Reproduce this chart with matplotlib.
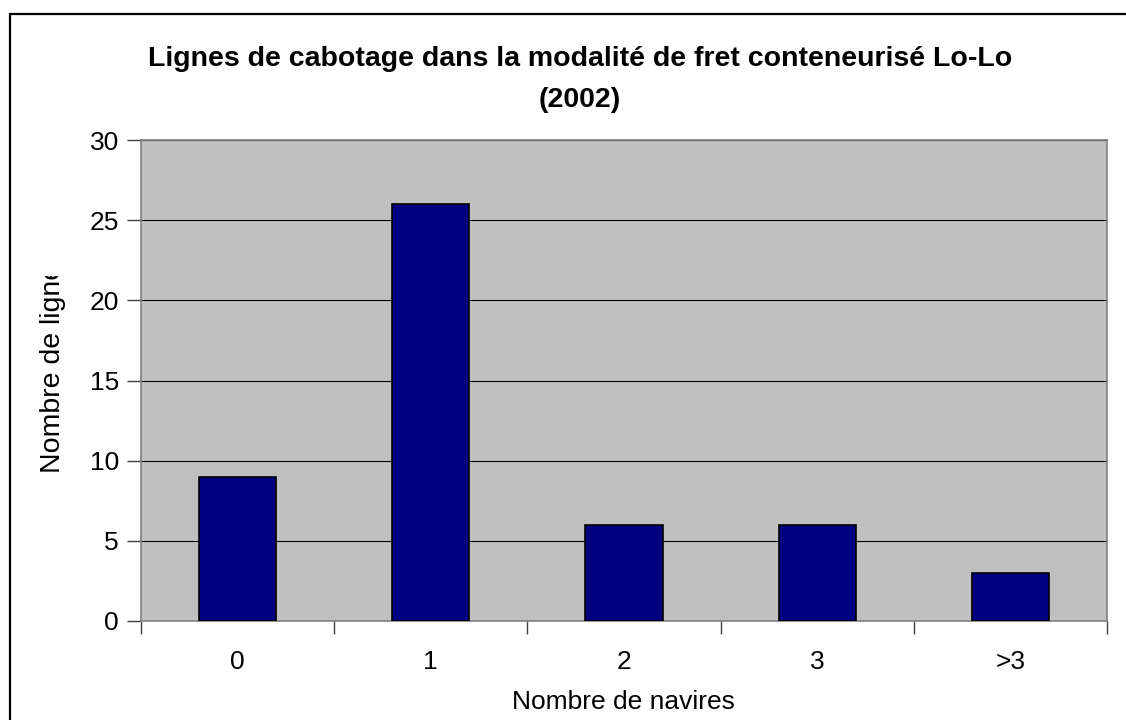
import matplotlib
matplotlib.use('Agg')
import matplotlib.pyplot as plt
from matplotlib.patches import Rectangle

plt.rcParams['font.family'] = ['Liberation Sans', 'DejaVu Sans']

# données
categories = ['0', '1', '2', '3', '>3']
nb_lignes = [9, 26, 6, 6, 3]
y_ticks = [0, 5, 10, 15, 20, 25, 30]

W, H = 1126, 720
fig = plt.figure(figsize=(W / 100, H / 100), dpi=100)

# cadre extérieur (coupé à droite et en bas)
fig.patches.append(Rectangle((10 / W, -0.1), 1.2, (H - 14) / H + 0.1,
                             transform=fig.transFigure, fill=False,
                             edgecolor='black', linewidth=1.6))

ax = fig.add_axes([141 / W, 1 - 621 / H, (1107 - 141) / W, (621 - 140) / H])
ax.set_facecolor('#C0C0C0')

x = list(range(len(categories)))
ax.bar(x, nb_lignes, width=0.4, color='#000080', edgecolor='black', linewidth=1.2, zorder=3)

ax.set_xlim(-0.5, len(categories) - 0.5)
ax.set_ylim(0, 30)
ax.set_yticks(y_ticks)
for v in y_ticks[1:]:
    ax.axhline(v, color='black', linewidth=0.8, zorder=1)

# graduations entre les catégories, étiquettes au centre
ax.set_xticks([i + 0.5 for i in x[:-1]] + [-0.5, len(categories) - 0.5])
ax.set_xticklabels([])
ax.set_xticks(x, minor=True)
ax.set_xticklabels(categories, minor=True)
ax.tick_params(axis='x', which='major', direction='out', length=9, width=1, color='#404040')
ax.tick_params(axis='x', which='minor', length=0, pad=21, labelsize=19)
ax.tick_params(axis='y', direction='out', length=10, width=1, color='#404040', labelsize=19, pad=6)

for s in ax.spines.values():
    s.set_color('#808080')
    s.set_linewidth(1.2)

fig.text(623 / W, 1 - 702 / H, 'Nombre de navires', fontsize=19, ha='center', va='center')

# étiquette Y tronquée comme dans l'original
lab = fig.text(53 / W, 1 - 473 / H, 'Nombre de lignes', rotation=90, fontsize=20.5,
               ha='center', va='bottom')
clip = Rectangle((0, 1 - 473 / H - 0.01), 0.2, (473 - 276) / H + 0.01, transform=fig.transFigure)
lab.set_clip_path(clip)

fig.text(580 / W, 1 - 66 / H, 'Lignes de cabotage dans la modalité de fret conteneurisé Lo-Lo',
         ha='center', va='baseline', fontsize=20.5, fontweight='bold')
fig.text(580 / W, 1 - 107 / H, '(2002)', ha='center', va='baseline', fontsize=20.5, fontweight='bold')

fig.savefig('out.png', dpi=100)
